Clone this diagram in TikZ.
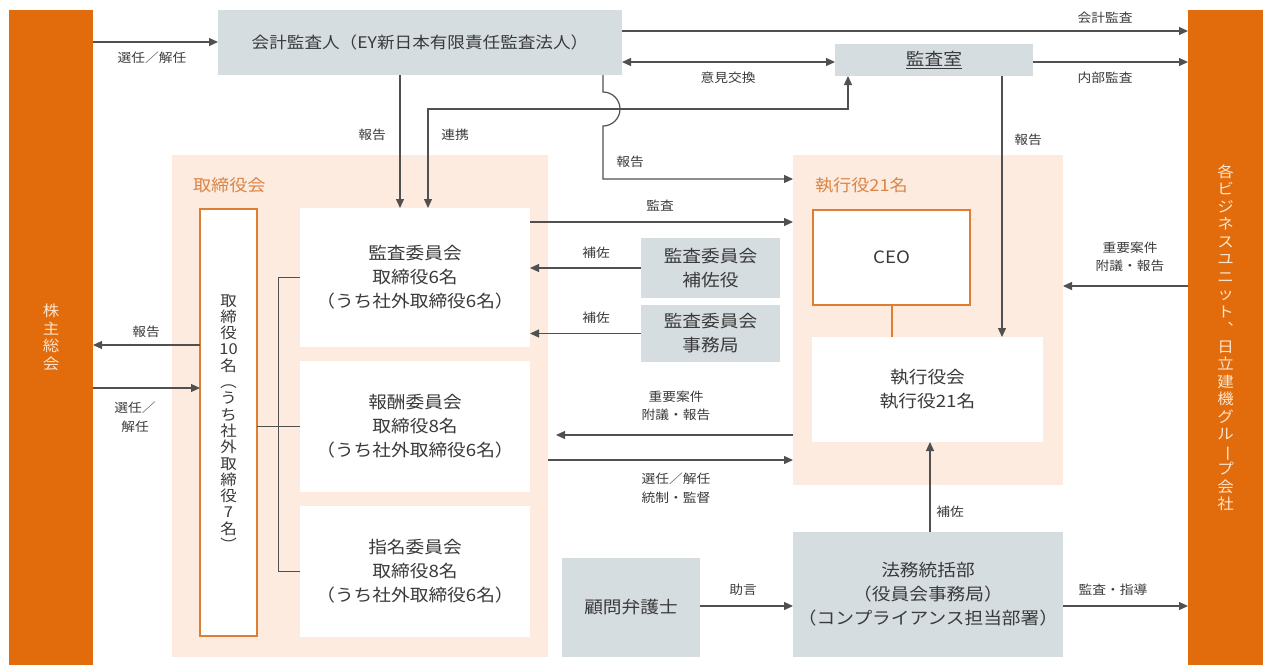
\documentclass[tikz,border=0pt]{standalone}
\usepackage{fontspec}
\setmainfont{Noto Sans CJK JP}[FakeStretch=1.1]
\usetikzlibrary{arrows.meta}
\definecolor{barorange}{HTML}{E26C0B}
\definecolor{bartext}{HTML}{FCE4CC}
\definecolor{peach}{HTML}{FCEBDE}
\definecolor{boxgray}{HTML}{D6DDE1}
\definecolor{framorange}{HTML}{DD7E32}
\definecolor{lblorange}{HTML}{DB8446}
\definecolor{txtgray}{HTML}{3A3A3A}
\definecolor{linegray}{HTML}{505050}
\newcommand{\mainfs}{\fontsize{17}{24}\selectfont}
\newcommand{\smallfs}{\fontsize{12.5}{18.5}\selectfont}
\newcommand{\barfs}{\fontsize{15}{17.5}\selectfont}
\newcommand{\vbar}{\rotatebox[origin=c]{-90}{ー}}

\begin{document}
\begin{tikzpicture}[x=1pt,y=-1pt]
\tikzstyle{every node}+=[inner sep=0pt, outer sep=0pt, text=txtgray]
\tikzstyle{bar}=[fill=barorange, text=bartext, align=center, font=\barfs]
\tikzstyle{peachbg}=[fill=peach]
\tikzstyle{whitebox}=[fill=white, align=center, font=\mainfs]
\tikzstyle{framebox}=[fill=white, draw=framorange, line width=2pt, align=center, font=\mainfs]
\tikzstyle{graybox}=[fill=boxgray, align=center, font=\mainfs]
\tikzstyle{lbl}=[align=center, font=\smallfs]
\tikzstyle{grouplbl}=[text=lblorange, font=\fontsize{16.5}{20}\selectfont]
\tikzstyle{arr}=[draw=linegray, line width=1.2pt, -{Triangle[length=9pt,width=8pt]}]
\tikzstyle{arrb}=[draw=linegray, line width=1.2pt, {Triangle[length=9pt,width=8pt]}-{Triangle[length=9pt,width=8pt]}]
\tikzstyle{brk}=[draw=linegray, line width=1pt]
\useasboundingbox (0,0) rectangle (1266,665);

\node[bar, minimum width=84pt, minimum height=655pt] (sh) at (51,337.5) {株\\主\\総\\会};
\node[bar, minimum width=75pt, minimum height=655pt] (biz) at (1225.5,337.5) {各\\ビ\\ジ\\ネ\\ス\\ユ\\ニ\\ッ\\ト\\︑\\日\\立\\建\\機\\グ\\ル\\\vbar\\プ\\会\\社};

\node[graybox, minimum width=404pt, minimum height=65pt, font=\fontsize{16}{24}\selectfont] (kaikei) at (420,42.5) {会計監査人（EY新日本有限責任監査法人）};
\node[graybox, minimum width=198pt, minimum height=32pt] (kansa) at (934,60) {\underline{監査室}};

\node[peachbg, minimum width=376pt, minimum height=502pt] (torib) at (360,406) {};
\node[grouplbl, anchor=west] (toriblbl) at (193,185) {取締役会};
\node[framebox, minimum width=57pt, minimum height=427pt, font=\fontsize{15}{16.3}\selectfont] (tori10) at (228.5,422.5) {取\\締\\役\\10\\名\\︵\\う\\ち\\社\\外\\取\\締\\役\\7\\名\\︶};
\node[whitebox, minimum width=230pt, minimum height=139pt] (kansaI) at (415,277.5) {監査委員会\\取締役6名\\（うち社外取締役6名）};
\node[whitebox, minimum width=230pt, minimum height=131pt] (hoshu) at (415,426.5) {報酬委員会\\取締役8名\\（うち社外取締役6名）};
\node[whitebox, minimum width=230pt, minimum height=131pt] (shimei) at (415,571.5) {指名委員会\\取締役8名\\（うち社外取締役6名）};

\node[graybox, minimum width=139pt, minimum height=60pt] (hosa) at (710.5,268) {監査委員会\\補佐役};
\node[graybox, minimum width=139pt, minimum height=57pt] (jimu) at (710.5,333.5) {監査委員会\\事務局};

\node[peachbg, minimum width=270pt, minimum height=330pt] (shikkob) at (928,320) {};
\node[grouplbl, anchor=west] (shikkoblbl) at (815,185) {執行役21名};
\node[framebox, minimum width=157pt, minimum height=95pt] (ceo) at (891.5,257.5) {CEO};
\node[whitebox, minimum width=231pt, minimum height=105pt] (yakuin) at (927.5,389.5) {執行役会\\執行役21名};

\node[graybox, minimum width=270pt, minimum height=125pt] (homu) at (928,594.5) {法務統括部\\（役員会事務局）\\（コンプライアンス担当部署）};
\node[graybox, minimum width=138pt, minimum height=99pt] (komon) at (631,607.5) {顧問弁護士};

\draw[arr] (sh.east |- 0,42) -- (kaikei.west |- 0,42);
\draw[arr] (kaikei.east |- 0,31) -- (biz.west |- 0,31);
\draw[arrb] (kaikei.east |- 0,62) -- (kansa.west |- 0,62);
\draw[arr] (kansa.east |- 0,62) -- (biz.west |- 0,62);
\draw[arr] (kaikei.south -| 400,0) -- (kansaI.north -| 400,0);
\draw[arrb] (kansaI.north -| 428,0) -- (428,109) -- (848,109) -- (kansa.south -| 848,0);
\draw[arr] (kaikei.south -| 603,0) -- (603,92) arc(-90:90:17) -- (603,179) -- (shikkob.west |- 0,179);
\draw[arr] (kansa.south -| 1002,0) -- (yakuin.north -| 1002,0);

\draw[arr] (kansaI.east |- 0,222) -- (shikkob.west |- 0,222);
\draw[arr] (hosa.west) -- (kansaI.east |- hosa.west);
\draw[arr] (jimu.west) -- (kansaI.east |- jimu.west);
\draw[arr] (biz.west |- 0,286) -- (shikkob.east |- 0,286);
\draw[draw=framorange, line width=2pt] (ceo.south) -- (ceo.south |- yakuin.north);

\draw[arr] (tori10.west |- 0,345) -- (sh.east |- 0,345);
\draw[arr] (sh.east |- 0,388) -- (tori10.west |- 0,388);
\draw[brk] (kansaI.west) -- ++(-22,0) |- (shimei.west);
\draw[brk] (tori10.east |- hoshu.west) -- (hoshu.west);

\draw[arr] (shikkob.west |- 0,435) -- ([xshift=8pt]torib.east |- 0,435);
\draw[arr] (torib.east |- 0,460) -- (shikkob.west |- 0,460);
\draw[arr] (homu.north -| 930,0) -- (yakuin.south -| 930,0);
\draw[arr] (komon.east |- 0,606) -- (homu.west |- 0,606);
\draw[arr] (homu.east |- 0,606) -- (biz.west |- 0,606);

\node[lbl] (l1) at (152,58) {選任／解任};
\node[lbl] (l2) at (1105,18) {会計監査};
\node[lbl] (l3) at (728,78) {意見交換};
\node[lbl] (l4) at (1105,78) {内部監査};
\node[lbl] (l5) at (372,135) {報告};
\node[lbl] (l6) at (455,135) {連携};
\node[lbl] (l7) at (630,162) {報告};
\node[lbl] (l8) at (1028,140) {報告};
\node[lbl] (l9) at (660,206) {監査};
\node[lbl] (l10) at (596,253) {補佐};
\node[lbl] (l11) at (596,318) {補佐};
\node[lbl] (l12) at (1130,257) {重要案件\\附議・報告};
\node[lbl] (l13) at (146,332) {報告};
\node[lbl] (l14) at (135,417) {選任／\\解任};
\node[lbl] (l15) at (676,406) {重要案件\\附議・報告};
\node[lbl] (l16) at (676,488) {選任／解任\\統制・監督};
\node[lbl] (l17) at (950,512) {補佐};
\node[lbl] (l18) at (743,590) {助言};
\node[lbl] (l19) at (1113,590) {監査・指導};
\end{tikzpicture}
\end{document}
